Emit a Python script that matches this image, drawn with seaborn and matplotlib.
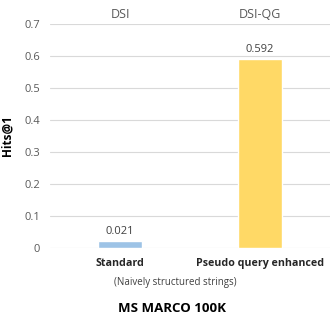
import matplotlib
matplotlib.use("Agg")
import matplotlib.pyplot as plt
import seaborn as sns
import pandas as pd

# Chart data
methods = ["Standard", "Pseudo query enhanced"]
models = ["DSI", "DSI-QG"]
hits_at_1 = [0.021, 0.592]
bar_colors = ["#9DC3E6", "#FFD966"]
y_ticks = [0, 0.1, 0.2, 0.3, 0.4, 0.5, 0.6, 0.7]

df = pd.DataFrame({"method": methods, "hits": hits_at_1})

sns.set_style("white")
plt.rcParams["font.family"] = ["Open Sans", "DejaVu Sans"]

fig = plt.figure(figsize=(3.30, 3.16), dpi=100)
ax = fig.add_axes([50 / 330, 68 / 316, 280 / 330, 224 / 316])

sns.barplot(data=df, x="method", y="hits", hue="method", palette=bar_colors,
            saturation=1, width=0.31, legend=False, ax=ax, zorder=3)

ax.set_ylim(0, 0.7)
ax.set_yticks(y_ticks)
ax.set_yticklabels([f"{t:g}" for t in y_ticks], color="#595959", fontsize=8)
ax.yaxis.grid(True, color="#D9D9D9", linewidth=0.8, zorder=0)
for s in ax.spines.values():
    s.set_visible(False)
ax.tick_params(axis="both", length=0, pad=7)
ax.set_xticks(range(len(methods)))
ax.set_xticklabels(methods, fontsize=7.7, fontweight="bold", color="#262626")
ax.set_xlabel("")
ax.set_ylabel("Hits@1", fontsize=8.5, fontweight="bold", color="#000000")
ax.yaxis.set_label_coords(-0.13, 0.5)

# Value labels
for i, v in enumerate(hits_at_1):
    ax.text(i, v + 0.012, f"{v:.3f}", ha="center", va="bottom", fontsize=8, color="#404040")

# Model names over the bars
for i, m in enumerate(models):
    fig.text((50 + 140 * i + 70) / 330, 1 - 15 / 316, m, ha="center", va="center",
             fontsize=9, color="#595959")

fig.text(175 / 330, 1 - 283 / 316, "(Naively structured strings)", ha="center", va="center",
         fontsize=7, color="#404040")
fig.text(172 / 330, 1 - 309 / 316, "MS MARCO 100K", ha="center", va="center",
         fontsize=9.5, fontweight="bold", color="#000000")

fig.savefig("out.png", dpi=100)
